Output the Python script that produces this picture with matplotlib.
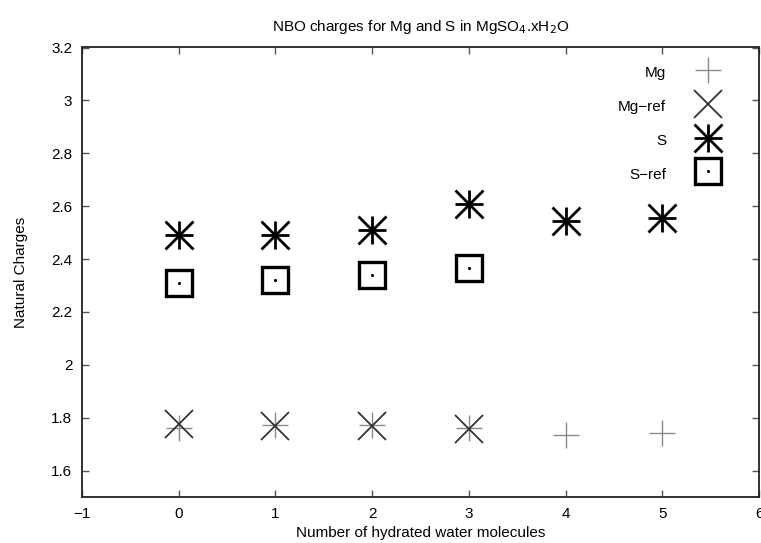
import matplotlib
matplotlib.use("Agg")
import matplotlib.pyplot as plt
from matplotlib.legend_handler import HandlerTuple

plt.rcParams['font.family'] = ['Liberation Sans', 'DejaVu Sans']

x_mg = [0, 1, 2, 3, 4, 5]
mg = [1.761, 1.774, 1.774, 1.761, 1.736, 1.741]
x_mg_ref = [0, 1, 2, 3]
mg_ref = [1.777, 1.770, 1.767, 1.758]
x_s = [0, 1, 2, 3, 4, 5]
s = [2.492, 2.490, 2.511, 2.607, 2.543, 2.554]
x_s_ref = [0, 1, 2, 3]
s_ref = [2.309, 2.319, 2.338, 2.367]

xticks = [-1, 0, 1, 2, 3, 4, 5, 6]
yticks = [1.6, 1.8, 2.0, 2.2, 2.4, 2.6, 2.8, 3.0, 3.2]
ytick_labels = ['1.6', '1.8', '2', '2.2', '2.4', '2.6', '2.8', '3', '3.2']

W, H = 761, 543
fig = plt.figure(figsize=(W / 100, H / 100), dpi=100)
fig.subplots_adjust(left=82 / W, right=759 / W, top=1 - 47.5 / H, bottom=1 - 497 / H)
ax = fig.add_subplot(111)

fs = 11
ms = 20

h_mg, = ax.plot(x_mg, mg, ls='none', marker='+', ms=ms * 0.95, mew=1.0, color='#8a8a8a')
h_mgr, = ax.plot(x_mg_ref, mg_ref, ls='none', marker='x', ms=ms, mew=1.3, color='#333333')
h_s1, = ax.plot(x_s, s, ls='none', marker='+', ms=ms, mew=2.0, color='black')
h_s2, = ax.plot(x_s, s, ls='none', marker='x', ms=ms, mew=2.0, color='black')
h_sr1, = ax.plot(x_s_ref, s_ref, ls='none', marker='s', ms=ms * 0.95, mew=2.4,
                 mfc='none', mec='black')
h_sr2, = ax.plot(x_s_ref, s_ref, ls='none', marker='.', ms=2.5, color='black')

ax.set_xlim(-1, 6)
ax.set_ylim(1.5, 3.2)
ax.set_xticks(xticks)
ax.set_yticks(yticks)
ax.set_yticklabels(ytick_labels)
ax.tick_params(direction='in', length=5, width=1, color='#555555', labelsize=fs,
               top=True, right=True, pad=7)
ax.tick_params(axis='x', pad=7)
for sp in ax.spines.values():
    sp.set_linewidth(1.3)
    sp.set_color('#222222')

ax.set_title('NBO charges for Mg and S in MgSO$_4$.xH$_2$O', fontsize=fs, pad=12)
ax.set_xlabel('Number of hydrated water molecules', fontsize=fs, labelpad=4)
ax.set_ylabel('Natural Charges', fontsize=fs, labelpad=17)

leg = ax.legend([h_mg, h_mgr, (h_s1, h_s2), (h_sr1, h_sr2)],
                ['Mg', 'Mg\u2212ref', 'S', 'S\u2212ref'],
                handler_map={tuple: HandlerTuple(ndivide=1, pad=0)},
                loc='upper right', bbox_to_anchor=(1 - 35.7 / 677, 1 - 15 / 449.5),
                borderaxespad=0, borderpad=0,
                markerfirst=False, frameon=False, fontsize=fs,
                handlelength=2.0, handletextpad=1.75, handleheight=1.5,
                labelspacing=1.0)

fig.savefig('out.png', dpi=100)
